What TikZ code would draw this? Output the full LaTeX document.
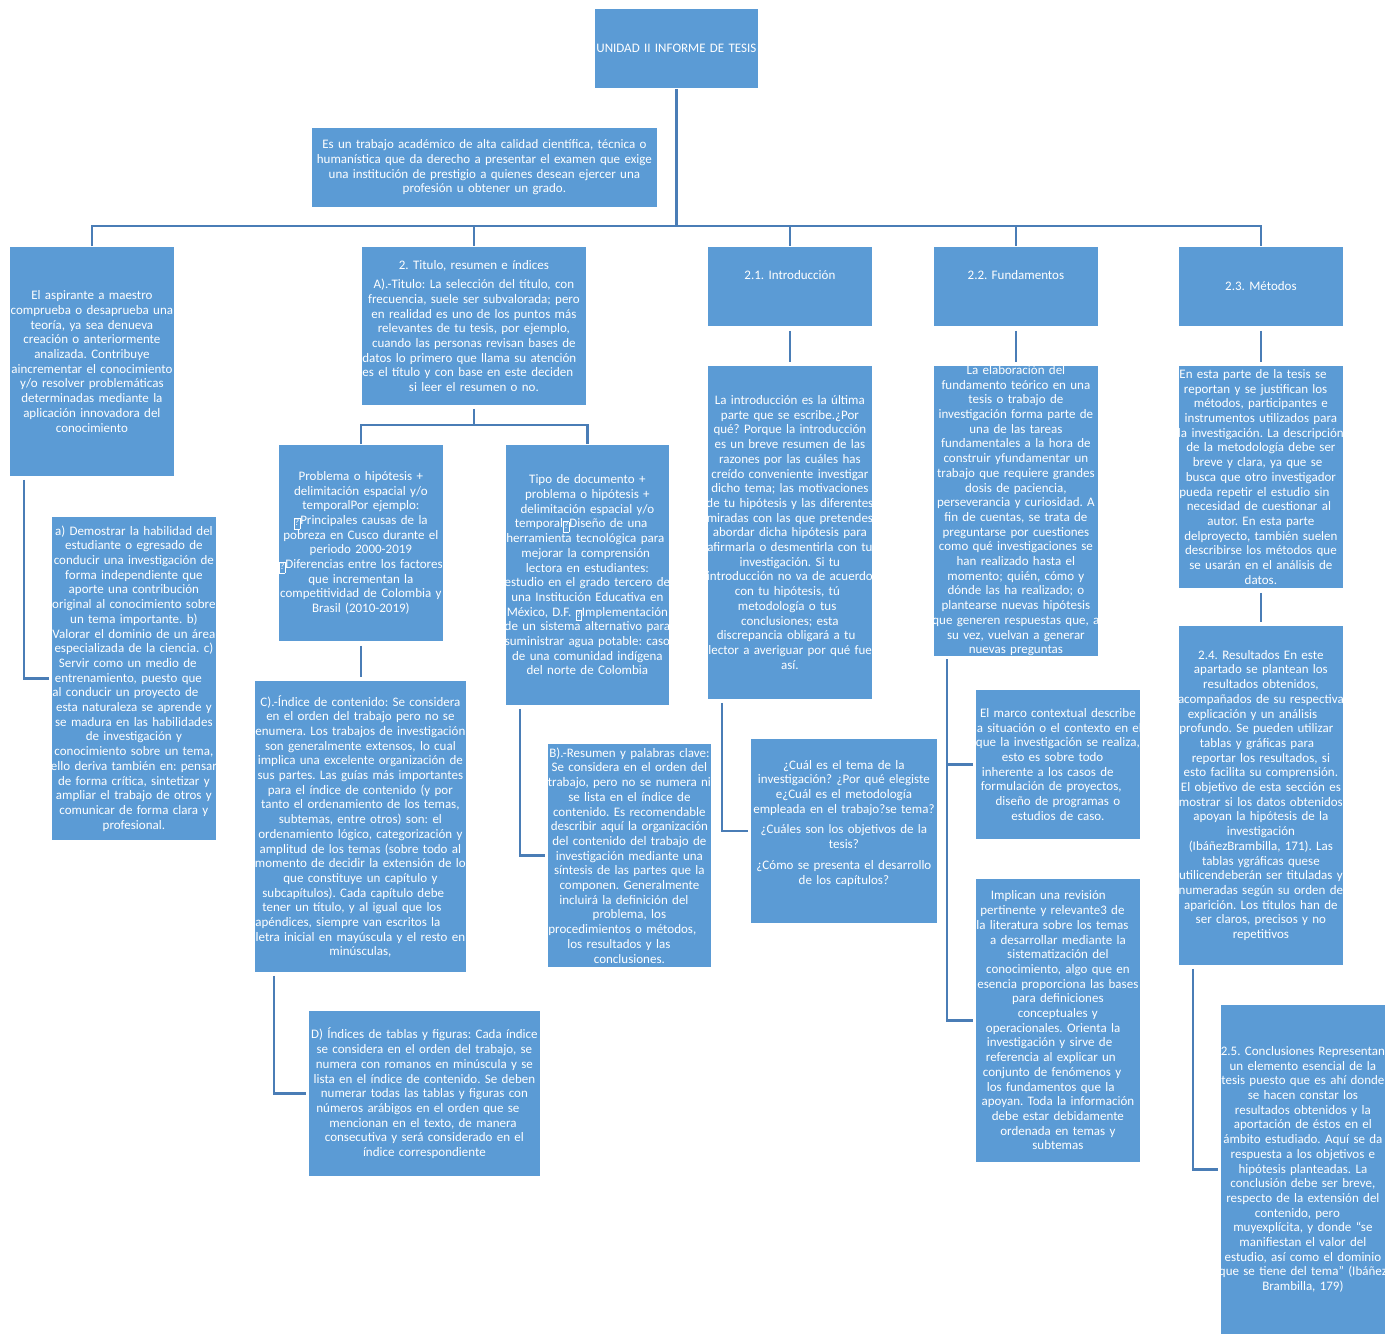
\documentclass[tikz,border=0pt]{standalone}
\usepackage{fontspec}
\setmainfont{Carlito}
\definecolor{boxc}{HTML}{5B9BD5}
\definecolor{linec}{HTML}{4A7DB6}
\newcommand\jl[1]{\makebox[\dimexpr\hsize-32pt\relax][s]{#1}}
\newcommand\jw[2]{\makebox[#1pt][s]{#2}}
\newcommand\qb{\raisebox{-1pt}{\fboxsep=0.4pt\fboxrule=0.5pt\fbox{\fontsize{9.5}{9.5}\selectfont\strut ?}}}
\hyphenpenalty=10000
\exhyphenpenalty=10000
\frenchspacing
\begin{document}
\begin{tikzpicture}[x=1pt,y=-1pt,
  bx/.style={anchor=north west, fill=boxc, draw=white, line width=0.8pt, text=white,
     align=center, inner ysep=0pt, inner xsep=-15pt, font=\fontsize{13}{14.7}\selectfont},
  sz/.style n args={2}{minimum width=#1pt, minimum height=#2pt, text width=#1pt+30pt},
  conn/.style={draw=linec, line width=2.8pt, line join=miter},
  gap/.style={shorten <=4pt, shorten >=3pt},
  elb/.style={shorten <=3pt, shorten >=2pt}]
\fill[white] (0,0) rectangle (1391,1333);
\useasboundingbox (0,0) rectangle (1391,1333);

% top
\node[bx, sz={164}{80}] (title) at (594,8) {UNIDAD II INFORME DE TESIS};
\node[bx, sz={346}{80}] (desc) at (311,127) {Es un trabajo académico de alta calidad científica, técnica o\\
humanística que da derecho a presentar el examen que exige\\
una institución de prestigio a quienes desean ejercer una\\
profesión u obtener un grado.};

% column heads
\node[bx, sz={165}{230}] (A) at (9,246) {El aspirante a maestro\\
comprueba o desaprueba una\\
teoría, ya sea denueva\\
creación o anteriormente\\
analizada. Contribuye\\
aincrementar el conocimiento\\
y/o resolver problemáticas\\
determinadas mediante la\\
aplicación innovadora del\\
conocimiento};

\node[bx, sz={225}{159}] (B) at (361,246) {2. Titulo, resumen e índices\\[5pt]
A).-Titulo: La selección del título, con\\
frecuencia, suele ser subvalorada; pero\\
en realidad es uno de los puntos más\\
relevantes de tu tesis, por ejemplo,\\
cuando las personas revisan bases de\\
\jl{datos lo primero que llama su atención}\\
\jl{es el título y con base en este deciden}\\
si leer el resumen o no.};

\node[bx, sz={165}{80}] (C) at (707,246) {2.1. Introducción\\[8pt]\mbox{}};
\node[bx, sz={165}{80}] (D) at (933,246) {2.2. Fundamentos\\[8pt]\mbox{}};
\node[bx, sz={165}{80}] (E) at (1178,246) {2.3. Métodos};

% column A child
\node[bx, sz={165}{324}] (a) at (51,516) {a) Demostrar la habilidad del\\
estudiante o egresado de\\
conducir una investigación de\\
forma independiente que\\
aporte una contribución\\
original al conocimiento sobre\\
un tema importante. b)\\
Valorar el dominio de un área\\
especializada de la ciencia. c)\\
\jw{150}{Servir como un medio de}\\
\jw{158}{entrenamiento, puesto que}\\
\jl{al conducir un proyecto de}\\
esta naturaleza se aprende y\\
se madura en las habilidades\\
de investigación y\\
conocimiento sobre un tema,\\
ello deriva también en: pensar\\
de forma crítica, sintetizar y\\
ampliar el trabajo de otros y\\
comunicar de forma clara y\\
profesional.};

% column B children
\node[bx, sz={165}{197}] (B1) at (278,444) {Problema o hipótesis +\\
delimitación espacial y/o\\
temporalPor ejemplo:\\
\qb Principales causas de la\\
pobreza en Cusco durante el\\
periodo 2000-2019\\
\qb Diferencias entre los factores\\
que incrementan la\\
competitividad de Colombia y\\
Brasil (2010-2019)};

\node[bx, sz={164}{261}] (B2) at (505,444) {Tipo de documento +\\
problema o hipótesis +\\
delimitación espacial y/o\\
\jw{145}{temporal\qb Diseño de una}\\
\jl{herramienta tecnológica para}\\
\jw{132}{mejorar la comprensión}\\
lectora en estudiantes:\\
estudio en el grado tercero de\\
una Institución Educativa en\\
México, D.F. \qb Implementación\\
de un sistema alternativo para\\
suministrar agua potable: caso\\
de una comunidad indígena\\
del norte de Colombia};

\node[bx, sz={212}{292}] (Cidx) at (254,680) {C).-Índice de contenido: Se considera\\
en el orden del trabajo pero no se\\
enumera. Los trabajos de investigación\\
son generalmente extensos, lo cual\\
implica una excelente organización de\\
sus partes. Las guías más importantes\\
para el índice de contenido (y por\\
tanto el ordenamiento de los temas,\\
subtemas, entre otros) son: el\\
ordenamiento lógico, categorización y\\
amplitud de los temas (sobre todo al\\
momento de decidir la extensión de lo\\
que constituye un capítulo y\\
\jw{196}{subcapítulos). Cada capítulo debe}\\
\jw{196}{tener un título, y al igual que los}\\
\jl{apéndices, siempre van escritos la}\\
letra inicial en mayúscula y el resto en\\
minúsculas,};

\node[bx, sz={164}{224}] (Bres) at (547,743) {B).-Resumen y palabras clave:\\
Se considera en el orden del\\
trabajo, pero no se numera ni\\
se lista en el índice de\\
contenido. Es recomendable\\
describir aquí la organización\\
del contenido del trabajo de\\
investigación mediante una\\
síntesis de las partes que la\\
componen. Generalmente\\
\jw{140}{incluirá la definición del}\\
problema, los\\
\jl{procedimientos o métodos,}\\
\jw{124}{los resultados y las}\\
conclusiones.};

\node[bx, sz={232}{166}] (Didx) at (308,1010) {D) Índices de tablas y figuras: Cada índice\\
se considera en el orden del trabajo, se\\
numera con romanos en minúscula y se\\
lista en el índice de contenido. Se deben\\
numerar todas las tablas y figuras con\\
\jw{216}{números arábigos en el orden que se}\\
\jw{190}{mencionan en el texto, de manera}\\
consecutiva y será considerado en el\\
índice correspondiente};

% column C
\node[bx, sz={165}{334}] (introT) at (707,365) {La introducción es la última\\
parte que se escribe.¿Por\\
qué? Porque la introducción\\
es un breve resumen de las\\
razones por las cuáles has\\
creído conveniente investigar\\
dicho tema; las motivaciones\\
de tu hipótesis y las diferentes\\
miradas con las que pretendes\\
abordar dicha hipótesis para\\
afirmarla o desmentirla con tu\\
investigación. Si tu\\
introducción no va de acuerdo\\
\jw{110}{con tu hipótesis, tú}\\
\jw{104}{metodología o tus}\\
conclusiones; esta\\
\jw{146}{discrepancia obligará a tu}\\
\jl{lector a averiguar por qué fue}\\
así.};

\node[bx, sz={187}{185}] (quest) at (750,738) {¿Cuál es el tema de la\\
investigación? ¿Por qué elegiste\\
e¿Cuál es el metodología\\
empleada en el trabajo?se tema?\\[6pt]
¿Cuáles son los objetivos de la\\
tesis?\\[6pt]
¿Cómo se presenta el desarrollo\\
de los capítulos?\\[3pt]\mbox{}};

% column D
\node[bx, sz={165}{286}] (fundT) at (933,365) {La elaboración del\\
fundamento teórico en una\\
tesis o trabajo de\\
investigación forma parte de\\
una de las tareas\\
fundamentales a la hora de\\
construir yfundamentar un\\
trabajo que requiere grandes\\
dosis de paciencia,\\
perseverancia y curiosidad. A\\
fin de cuentas, se trata de\\
preguntarse por cuestiones\\
como qué investigaciones se\\
han realizado hasta el\\
momento; quién, cómo y\\
dónde las ha realizado; o\\
plantearse nuevas hipótesis\\
que generen respuestas que, a\\
su vez, vuelvan a generar\\
nuevas preguntas};

\node[bx, sz={165}{150}] (marco) at (975,689) {El marco contextual describe\\
la situación o el contexto en el\\
que la investigación se realiza,\\
\jw{112}{esto es sobre todo}\\
\jw{152}{inherente a los casos de}\\
\jw{154}{formulación de proyectos,}\\
diseño de programas o\\
estudios de caso.};

\node[bx, sz={165}{284}] (impl) at (975,878) {\jw{134}{Implican una revisión}\\
\jw{155}{pertinente y relevante3 de}\\
\jl{la literatura sobre los temas}\\
a desarrollar mediante la\\
sistematización del\\
conocimiento, algo que en\\
esencia proporciona las bases\\
para definiciones\\
conceptuales y\\
\jw{144}{operacionales. Orienta la}\\
\jw{142}{investigación y sirve de}\\
\jw{144}{referencia al explicar un}\\
\jw{150}{conjunto de fenómenos y}\\
\jw{142}{los fundamentos que la}\\
apoyan. Toda la información\\
debe estar debidamente\\
ordenada en temas y\\
subtemas};

% column E
\node[bx, sz={165}{223}] (metT) at (1178,365) {\jl{En esta parte de la tesis se}\\
\jw{154}{reportan y se justifican los}\\
\jw{134}{métodos, participantes e}\\
instrumentos utilizados para\\
la investigación. La descripción\\
de la metodología debe ser\\
\jw{136}{breve y clara, ya que se}\\
busca que otro investigador\\
\jl{pueda repetir el estudio sin}\\
\jw{148}{necesidad de cuestionar al}\\
autor. En esta parte\\
delproyecto, también suelen\\
describirse los métodos que\\
se usarán en el análisis de\\
datos.};

\node[bx, sz={165}{340}] (res) at (1178,625) {2.4. Resultados En este\\
apartado se plantean los\\
resultados obtenidos,\\
acompañados de su respectiva\\
\jw{146}{explicación y un análisis}\\
\jl{profundo. Se pueden utilizar}\\
\jw{122}{tablas y gráficas para}\\
reportar los resultados, si\\
esto facilita su comprensión.\\
El objetivo de esta sección es\\
mostrar si los datos obtenidos\\
apoyan la hipótesis de la\\
investigación\\
(IbáñezBrambilla, 171). Las\\
tablas ygráficas quese\\
utilicendeberán ser tituladas y\\
numeradas según su orden de\\
aparición. Los títulos han de\\
ser claros, precisos y no\\
repetitivos};

\node[bx, sz={165}{330}] (concl) at (1220,1004) {2.5. Conclusiones Representan\\
un elemento esencial de la\\
tesis puesto que es ahí donde\\
se hacen constar los\\
resultados obtenidos y la\\
aportación de éstos en el\\
ámbito estudiado. Aquí se da\\
respuesta a los objetivos e\\
hipótesis planteadas. La\\
conclusión debe ser breve,\\
respecto de la extensión del\\
\jw{96}{contenido, pero}\\
muyexplícita, y donde “se\\
manifiestan el valor del\\
estudio, así como el dominio\\
que se tiene del tema” (Ibáñez\\
Brambilla, 179)};

% main tree
\coordinate (bar) at (0,226);
\draw[conn] (title.south) -- (title.south |- bar);
\draw[conn] (A.north) -- (A.north |- bar) -- (E.north |- bar) -- (E.north);
\foreach \n in {B,C,D} \draw[conn] (\n.north |- bar) -- (\n.north);

% column B
\coordinate (bbar) at (0,425);
\draw[conn, shorten <=3pt] (B.south) -- (B.south |- bbar);
\draw[conn] (B1.north) -- (B1.north |- bbar) -- (B2.north |- bbar) -- (B2.north);
\draw[conn, gap] (B1.south) -- (B1.south |- Cidx.north);
\draw[conn, elb] ([xshift=20pt]Cidx.south west) |- (Didx.west);
\draw[conn, elb] ([xshift=15pt]B2.south west) |- (Bres.west);

% column A
\draw[conn, elb] ([xshift=15pt]A.south west) |- (a.west);

% column C
\draw[conn, gap] (C.south) -- (introT.north);
\draw[conn, elb] ([xshift=15pt]introT.south west) |- (quest.west);

% column D
\draw[conn, gap] (D.south) -- (fundT.north);
\draw[conn, elb] ([xshift=14pt]fundT.south west) |- (marco.west);
\draw[conn, elb] ([xshift=14pt]fundT.south west) |- (impl.west);

% column E
\draw[conn, gap] (E.south) -- (metT.north);
\draw[conn, gap] (metT.south) -- (res.north);
\draw[conn, elb] ([xshift=15pt]res.south west) |- (concl.west);
\end{tikzpicture}
\end{document}
